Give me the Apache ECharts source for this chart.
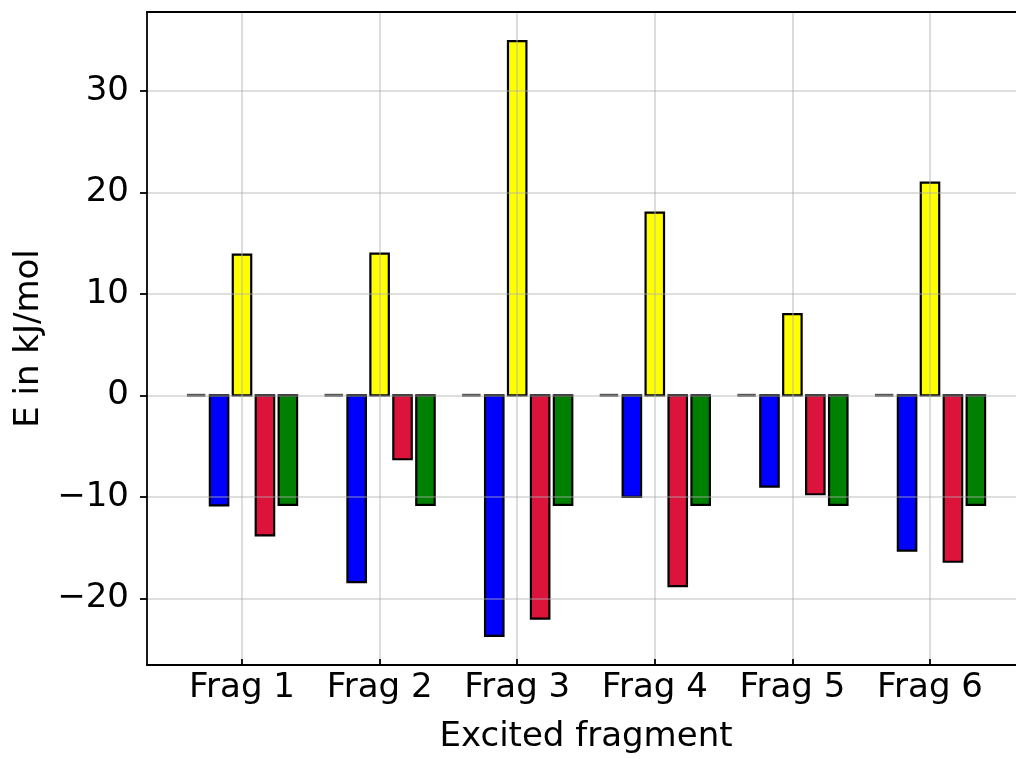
<!DOCTYPE html>
<html>
<head>
<meta charset="utf-8">
<script src="https://cdn.jsdelivr.net/npm/echarts@6/dist/echarts.min.js"></script>
<style>
html,body{margin:0;padding:0;background:#fff;}
#chart{width:1016px;height:759px;}
</style>
</head>
<body>
<div id="chart"></div>
<script>
const categories = ['Frag 1', 'Frag 2', 'Frag 3', 'Frag 4', 'Frag 5', 'Frag 6'];
const baselineVals = [0, 0, 0, 0, 0, 0];
const blueVals = [-10.85, -18.4, -23.7, -10.0, -9.0, -15.3];
const yellowVals = [13.85, 13.95, 34.9, 18.0, 8.0, 20.95];
const redVals = [-13.8, -6.3, -22.0, -18.8, -9.75, -16.4];
const greenVals = [-10.8, -10.8, -10.8, -10.8, -10.8, -10.8];
const yTicks = [-20, -10, 0, 10, 20, 30];

const FONT = 'DejaVu Sans';
const FS = 34;
const Y_MIN = -26.57, Y_MAX = 37.76;
const X_MIN = -0.6904, X_MAX = 5.625;
const STEP = 1 / 6, BAR_W = 0.134;
const GRID_COLOR = 'rgba(176,176,176,0.55)';

function barSeries(name, vals, k, color) {
  return {
    name: name,
    type: 'custom',
    xAxisIndex: 0,
    yAxisIndex: 0,
    z: 2,
    data: vals.map((v, i) => [i, v]),
    renderItem: function (params, api) {
      const i = api.value(0), v = api.value(1);
      const c = i + (k - 2) * STEP;
      const p0 = api.coord([c - BAR_W / 2, 0]);
      const p1 = api.coord([c + BAR_W / 2, v]);
      if (color === null) {
        return {
          type: 'line',
          shape: {x1: p0[0], y1: p1[1], x2: p1[0], y2: p1[1]},
          style: {stroke: '#555555', lineWidth: 3}
        };
      }
      return {
        type: 'rect',
        shape: {
          x: Math.min(p0[0], p1[0]),
          y: Math.min(p0[1], p1[1]),
          width: Math.abs(p1[0] - p0[0]),
          height: Math.abs(p1[1] - p0[1])
        },
        style: {fill: color, stroke: '#000', lineWidth: 2.2}
      };
    }
  };
}

const chart = echarts.init(document.getElementById('chart'), null, {renderer: 'canvas'});
chart.setOption({
  backgroundColor: '#fff',
  animation: false,
  textStyle: {fontFamily: FONT},
  grid: [
    {left: 147, right: 0, top: 12, bottom: 94},
    {left: 242, right: 86, top: 12, bottom: 94}
  ],
  xAxis: [
    {
      type: 'value', gridIndex: 0, min: X_MIN, max: X_MAX, position: 'bottom', z: 12,
      axisLine: {show: true, onZero: false, lineStyle: {color: '#000', width: 1.8}},
      axisTick: {show: false}, axisLabel: {show: false}, splitLine: {show: false}
    },
    {
      type: 'value', gridIndex: 0, min: X_MIN, max: X_MAX, position: 'top', z: 12,
      axisLine: {show: true, onZero: false, lineStyle: {color: '#000', width: 1.8}},
      axisTick: {show: false}, axisLabel: {show: false}, splitLine: {show: false}
    },
    {
      type: 'category', gridIndex: 1, data: categories, boundaryGap: false, z: 10,
      position: 'bottom',
      axisLine: {show: false, onZero: false},
      axisTick: {show: true, length: 7, lineStyle: {color: '#000', width: 1.8}},
      axisLabel: {interval: 0, color: '#000', fontSize: FS, fontFamily: FONT, margin: 12},
      splitLine: {show: true, interval: 0, lineStyle: {color: GRID_COLOR, width: 1.6}},
      name: 'Excited fragment', nameLocation: 'middle', nameGap: 61,
      nameTextStyle: {color: '#000', fontSize: FS, fontFamily: FONT}
    }
  ],
  yAxis: [
    {
      type: 'value', gridIndex: 0, min: Y_MIN, max: Y_MAX, z: 10,
      axisLine: {show: true, onZero: false, lineStyle: {color: '#000', width: 1.8}},
      axisTick: {show: true, length: 7, customValues: yTicks, lineStyle: {color: '#000', width: 1.8}},
      axisLabel: {
        customValues: yTicks, color: '#000', fontSize: FS, fontFamily: FONT, margin: 18,
        formatter: v => String(v).replace('-', '\u2212')
      },
      splitLine: {show: true, lineStyle: {color: GRID_COLOR, width: 1.6}},
      name: 'E in kJ/mol', nameLocation: 'middle', nameGap: 99,
      nameTextStyle: {color: '#000', fontSize: FS, fontFamily: FONT}
    },
    {
      type: 'value', gridIndex: 1, min: Y_MIN, max: Y_MAX, show: false
    }
  ],
  series: [
    barSeries('baseline', baselineVals, 0, null),
    barSeries('blue', blueVals, 1, '#0000ff'),
    barSeries('yellow', yellowVals, 2, '#ffff00'),
    barSeries('red', redVals, 3, '#dc143c'),
    barSeries('green', greenVals, 4, '#008000')
  ]
});
</script>
</body>
</html>
